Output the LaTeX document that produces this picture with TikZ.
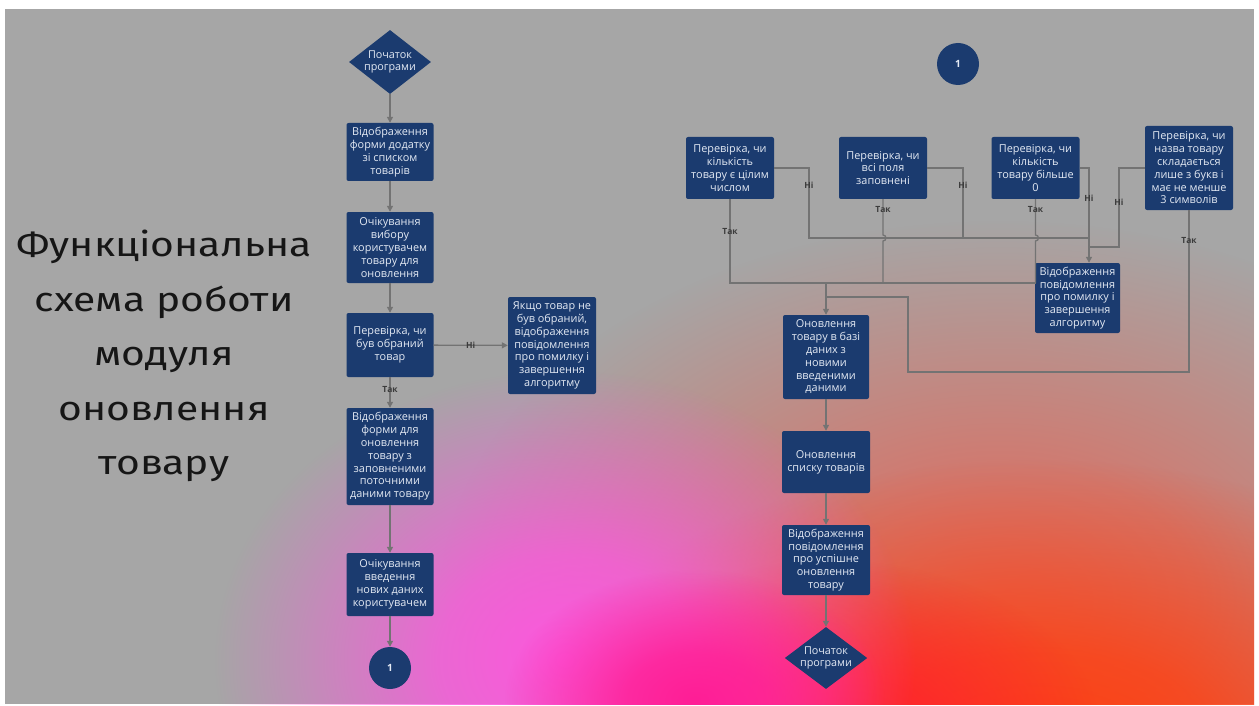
\documentclass[tikz,border=0pt]{standalone}
\usepackage{fontspec}
\setmainfont{Open Sans}
\newfontfamily\titlefont[FakeStretch=1.2]{Fira Sans}
\usetikzlibrary{shapes.geometric,arrows.meta,fadings}

\definecolor{bggray}{RGB}{166,166,166}
\definecolor{navy}{RGB}{27,59,111}
\definecolor{linegray}{RGB}{115,115,115}
\definecolor{boxtext}{RGB}{228,234,244}
\definecolor{labelgray}{RGB}{60,60,60}
\definecolor{titleink}{RGB}{22,22,22}

% radial glow that stays strong near the centre and dies out at the rim
\pgfdeclareradialshading{glowshade}{\pgfpointorigin}{%
  color(0bp)=(white); color(9bp)=(white!80!black);
  color(18bp)=(white!35!black); color(25bp)=(black); color(50bp)=(black)}
\pgfdeclarefading{softglow}{\pgfuseshading{glowshade}}

\begin{document}
\begin{tikzpicture}[x=1pt,y=-1pt,
  box/.style={fill=navy, rounded corners=2pt, text=boxtext, align=center,
    inner sep=0pt, font=\fontsize{10.9}{12.8}\selectfont,
    minimum width=87pt},
  startbox/.style={diamond, fill=navy, text=boxtext, align=center,
    inner sep=0pt, font=\fontsize{10.8}{12.7}\selectfont},
  conn/.style={circle, fill=navy, text=boxtext, minimum size=42pt,
    inner sep=0pt, font=\bfseries\fontsize{10}{12}\selectfont},
  wire/.style={draw=linegray, line width=1.3pt},
  arr/.style={wire, -{Triangle[length=6pt,width=6pt]}},
  lbl/.style={text=labelgray, font=\bfseries\fontsize{8.5}{9}\selectfont, inner sep=1pt},
]
\useasboundingbox (0,0) rectangle (1259,706);
\fill[white] (0,0) rectangle (1259,706);
\fill[bggray] (5,9) rectangle (1254,704);

% coloured glow over the lower half of the slide
\begin{scope}
  \clip (5,9) rectangle (1254,704);
  \fill[color={rgb,255:red,218;green,112;blue,100}, path fading=softglow]
    (1000,600) ellipse [x radius=560, y radius=380];
  \fill[color={rgb,255:red,255;green,62;blue,15}, path fading=softglow]
    (1040,760) ellipse [x radius=520, y radius=300];
  \fill[color={rgb,255:red,255;green,35;blue,45}, path fading=softglow]
    (830,730) ellipse [x radius=270, y radius=170];
  \fill[color={rgb,255:red,252;green,88;blue,222}, path fading=softglow]
    (565,660) ellipse [x radius=350, y radius=290];
  \fill[color={rgb,255:red,255;green,30;blue,150}, path fading=softglow]
    (695,700) ellipse [x radius=190, y radius=130];
\end{scope}

% title
\node[text=titleink, align=center, font=\titlefont\fontsize{34}{54.5}\selectfont]
  (title) at (164,356)
  {Функціональна\\схема роботи\\модуля\\оновлення\\товару};

% ---------- left flow ----------
\node[startbox, aspect=1.28, minimum width=82pt, minimum height=64pt] (d1) at (390,62) {Початок\\програми};
\node[box, minimum height=58pt] (b1) at (390,152) {Відображення\\форми додатку\\зі списком\\товарів};
\node[box, minimum height=71pt] (b2) at (390,247.5) {Очікування\\вибору\\користувачем\\товару для\\оновлення};
\node[box, minimum height=64pt] (b3) at (390,345) {Перевірка, чи\\був обраний\\товар};
\node[box, minimum width=88pt, minimum height=97pt] (err1) at (552,345.5) {Якщо товар не\\був обраний,\\відображення\\повідомлення\\про помилку і\\завершення\\алгоритму};
\node[box, minimum height=97pt] (b4) at (390,456.5) {Відображення\\форми для\\оновлення\\товару з\\заповненими\\поточними\\даними товару};
\node[box, minimum height=63pt] (b5) at (390,584.5) {Очікування\\введення\\нових даних\\користувачем};
\node[conn] (c1) at (390,668) {1};

\draw[arr] (d1) -- (b1);
\draw[arr] (b1) -- (b2);
\draw[arr] (b2) -- (b3);
\draw[arr] (b3) -- node[lbl]{Ні} (err1);
\draw[arr] (b3) -- node[lbl, pos=0.4]{Так} (b4);
\draw[arr] (b4) -- (b5);
\draw[arr] (b5) -- (c1);

% ---------- right flow ----------
\node[conn] (c2) at (958,64) {1};
\node[box, minimum width=88pt, minimum height=62pt] (qa) at (730,168) {Перевірка, чи\\кількість\\товару є цілим\\числом};
\node[box, minimum width=88pt, minimum height=62pt] (qb) at (883,168) {Перевірка, чи\\всі поля\\заповнені};
\node[box, minimum width=88pt, minimum height=62pt] (qc) at (1035.5,168) {Перевірка, чи\\кількість\\товару більше\\0};
\node[box, minimum width=88pt, minimum height=84pt] (qd) at (1189,168) {Перевірка, чи\\назва товару\\складається\\лише з букв і\\має не менше\\3 символів};
\node[box, minimum width=85pt, minimum height=70pt] (err2) at (1077.5,298) {Відображення\\повідомлення\\про помилку і\\завершення\\алгоритму};
\node[box, minimum width=86pt, minimum height=84pt] (u1) at (826,357) {Оновлення\\товару в базі\\даних з\\новими\\введеними\\даними};
\node[box, minimum width=88pt, minimum height=62pt] (u2) at (826,462) {Оновлення\\списку товарів};
\node[box, minimum width=88pt, minimum height=70pt] (u3) at (826,560) {Відображення\\повідомлення\\про успішне\\оновлення\\товару};
\node[startbox, aspect=1.33, minimum width=80pt, minimum height=60pt] (d2) at (826,658) {Початок\\програми};

\coordinate (yesjoin) at (826,283);

% "no" branches gather into the error message
\draw[wire] (qa.east) -- (809,168) -- node[lbl, pos=0.24]{Ні} (809,238) -- (1089,238);
\draw[wire] (qb.east) -- (963,168) -- node[lbl, pos=0.24]{Ні} (963,238);
\draw[arr] (qc.east) -| node[lbl, pos=0.66]{Ні} ([xshift=11.5pt]err2.north);
\draw[wire] (qd.west) -- (1119,168) -- node[lbl, pos=0.43]{Ні} (1119,247) -- (1089,247);

% "yes" branches gather into the update step (small hops where they cross)
\draw[wire] (qa.south) -- node[lbl, pos=0.39]{Так} (730,283) -- (1035.5,283);
\draw[wire] (qb.south) -- node[lbl, pos=0.3]{Так} (883,235)
  arc[start angle=-90, end angle=90, radius=3] -- (883,283);
\draw[wire] (qc.south) -- node[lbl, pos=0.3]{Так} (1035.5,235)
  arc[start angle=-90, end angle=90, radius=3] -- (1035.5,283);
\draw[wire] (qd.south) -- node[lbl, pos=0.19]{Так} (1189,372) -- (908,372) -- (908,297) -- (826,297);
\draw[arr] (yesjoin) -- (u1.north);

\draw[arr] (u1) -- (u2);
\draw[arr] (u2) -- (u3);
\draw[arr] (u3) -- (d2);
\end{tikzpicture}
\end{document}
